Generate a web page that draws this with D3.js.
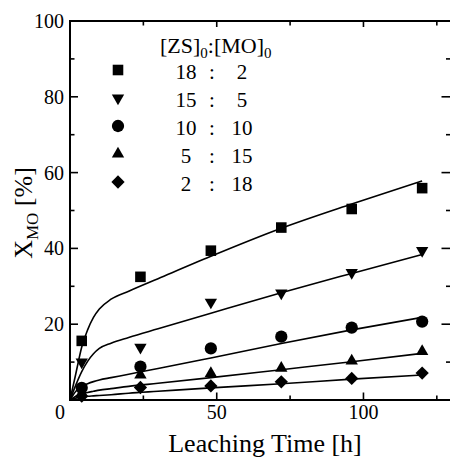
<!DOCTYPE html>
<html>
<head>
<meta charset="utf-8">
<script src="https://cdn.jsdelivr.net/npm/d3@7"></script>
<style>
  html, body { margin: 0; padding: 0; background: #fff; }
  svg { display: block; }
  text { font-family: "Liberation Serif", "Times New Roman", serif; fill: #000; }
</style>
</head>
<body>
<svg id="chart" width="450" height="457"></svg>
<script>
// Sampling times [h] of the leaching measurements
const times = [4, 24, 48, 72, 96, 120];

// Measured conversion X_MO [%] for each initial ratio [ZS]0:[MO]0
const ratioZS = ["18", "15", "10", "5", "2"];
const ratioMO = ["2", "5", "10", "15", "18"];
const xSquare   = [15.6, 32.5, 39.4, 45.5, 50.4, 55.9];
const xTriDown  = [10.0, 13.9, 25.8, 28.2, 33.6, 39.4];
const xCircle   = [3.2, 8.8, 13.6, 16.7, 19.1, 20.7];
const xTriUp    = [1.8, 6.6, 7.0, 8.4, 10.3, 12.8];
const xDiamond  = [1.0, 3.3, 3.7, 4.8, 5.7, 7.1];

// Model curves, sampled at these times
const fitTimes     = [0, 2, 4, 6, 8, 10, 14, 20, 30, 48, 72, 96, 120];
const fitSquare    = [0, 7.0, 14.0, 18.5, 21.8, 24.0, 26.6, 28.7, 32.0, 37.9, 45.3, 51.7, 57.8];
const fitTriDown   = [0, 4.0, 7.5, 10.2, 12.2, 13.6, 15.0, 16.5, 18.8, 22.9, 28.3, 33.4, 38.4];
const fitCircle    = [0, 2.3, 3.6, 4.3, 4.85, 5.3, 5.9, 6.8, 8.3, 11.1, 14.9, 18.5, 21.8];
const fitTriUp     = [0, 1.0, 1.6, 2.0, 2.3, 2.6, 3.0, 3.6, 4.4, 5.9, 8.0, 10.1, 12.3];
const fitDiamond   = [0, 0.5, 0.8, 1.0, 1.1, 1.2, 1.4, 1.8, 2.3, 3.2, 4.3, 5.5, 6.6];

// Axis ticks
const xMajor = [0, 50, 100];
const xMinor = [25, 75, 125];
const yMajor = [0, 20, 40, 60, 80, 100];
const yMinor = [10, 30, 50, 70, 90];

const svg = d3.select("#chart");
const L = 70, R = 451.5, T = 21, B = 400;

const x = d3.scaleLinear().domain([0, 130]).range([L, R]);
const y = d3.scaleLinear().domain([0, 100]).range([B, T]);

// Marker shapes
const diamondType = {
  draw(ctx, size) {
    const r = Math.sqrt(size / 2);
    ctx.moveTo(0, -r); ctx.lineTo(r, 0); ctx.lineTo(0, r); ctx.lineTo(-r, 0); ctx.closePath();
  }
};
const series = [
  { vals: xSquare,  fit: fitSquare,  type: d3.symbolSquare,   size: 112, rot: 0 },
  { vals: xTriDown, fit: fitTriDown, type: d3.symbolTriangle, size: 66,  rot: 180 },
  { vals: xCircle,  fit: fitCircle,  type: d3.symbolCircle,   size: 118, rot: 0 },
  { vals: xTriUp,   fit: fitTriUp,   type: d3.symbolTriangle, size: 66,  rot: 0 },
  { vals: xDiamond, fit: fitDiamond, type: diamondType,       size: 88,  rot: 0 }
];

// Fitted curves
const line = d3.line()
  .x((d, i) => x(fitTimes[i]))
  .y(d => y(d))
  .curve(d3.curveMonotoneX);

const plot = svg.append("g");
series.forEach(s => {
  plot.append("path")
    .attr("d", line(s.fit))
    .attr("fill", "none")
    .attr("stroke", "#000")
    .attr("stroke-width", 1.6);
});

// Data points
series.forEach(s => {
  const sym = d3.symbol().type(s.type).size(s.size);
  plot.selectAll(null)
    .data(s.vals)
    .enter().append("path")
    .attr("d", sym)
    .attr("transform", (d, i) => `translate(${x(times[i])},${y(d)}) rotate(${s.rot})`)
    .attr("fill", "#000");
});

// Frame with inward ticks on all four sides
const axes = svg.append("g");
function addTicks(scale, values, len, orient, pos) {
  values.forEach(v => {
    const p = scale(v);
    let x1, y1, x2, y2;
    if (orient === "bottom") { x1 = x2 = p; y1 = pos; y2 = pos - len; }
    if (orient === "top")    { x1 = x2 = p; y1 = pos; y2 = pos + len; }
    if (orient === "left")   { y1 = y2 = p; x1 = pos; x2 = pos + len; }
    if (orient === "right")  { y1 = y2 = p; x1 = pos; x2 = pos - len; }
    axes.append("line")
      .attr("x1", x1).attr("y1", y1).attr("x2", x2).attr("y2", y2)
      .attr("stroke", "#000").attr("stroke-width", 1.6);
  });
}
addTicks(x, xMajor.slice(1), 7.5, "bottom", B);
addTicks(x, xMinor, 4.5, "bottom", B);
addTicks(x, xMajor.slice(1), 6, "top", T);
addTicks(x, xMinor, 4.5, "top", T);
addTicks(y, yMajor.slice(1, -1), 8, "left", L);
addTicks(y, yMinor, 4.5, "left", L);
addTicks(y, yMajor.slice(1, -1), 10, "right", R);
addTicks(y, yMinor, 5.5, "right", R);

axes.append("rect")
  .attr("x", L).attr("y", T)
  .attr("width", R - L).attr("height", B - T)
  .attr("fill", "none")
  .attr("stroke", "#000")
  .attr("stroke-width", 2);

// Tick labels
const labels = svg.append("g").style("font-size", "20px");
labels.selectAll(null)
  .data(yMajor.slice(1))
  .enter().append("text")
  .attr("x", L - 6)
  .attr("y", d => y(d))
  .attr("dy", "0.35em")
  .attr("text-anchor", "end")
  .text(d => d);
labels.selectAll(null)
  .data(xMajor.slice(1))
  .enter().append("text")
  .attr("x", d => x(d))
  .attr("y", 419)
  .attr("text-anchor", "middle")
  .text(d => d);
labels.append("text")
  .attr("x", 60).attr("y", 419)
  .attr("text-anchor", "middle")
  .text("0");

// Axis titles
svg.append("text")
  .attr("x", 265)
  .attr("y", 452)
  .attr("text-anchor", "middle")
  .style("font-size", "26px")
  .text("Leaching Time [h]");

const yt = svg.append("text")
  .attr("transform", "translate(32,213) rotate(-90)")
  .attr("text-anchor", "middle")
  .style("font-size", "26px");
yt.append("tspan").text("X");
yt.append("tspan").attr("dy", 6).style("font-size", "17px").text("MO");
yt.append("tspan").attr("dy", -6).text(" [%]");

// Legend
const leg = svg.append("g");
const head = leg.append("text")
  .attr("x", 160).attr("y", 53)
  .style("font-size", "22px");
head.append("tspan").text("[ZS]");
head.append("tspan").attr("dy", 5).style("font-size", "15px").text("0");
head.append("tspan").attr("dy", -5).text(":[MO]");
head.append("tspan").attr("dy", 5).style("font-size", "15px").text("0");

series.forEach((s, i) => {
  const cy = 70 + i * 28;
  const sym = d3.symbol().type(s.type).size(s.size);
  leg.append("path")
    .attr("d", sym)
    .attr("transform", `translate(118,${cy}) rotate(${s.rot})`)
    .attr("fill", "#000");
  const base = 79 + i * 28;
  leg.append("text").attr("x", 186).attr("y", base)
    .attr("text-anchor", "middle").style("font-size", "21px").text(ratioZS[i]);
  leg.append("text").attr("x", 212).attr("y", base)
    .attr("text-anchor", "middle").style("font-size", "21px").text(":");
  leg.append("text").attr("x", 242).attr("y", base)
    .attr("text-anchor", "middle").style("font-size", "21px").text(ratioMO[i]);
});
</script>
</body>
</html>
